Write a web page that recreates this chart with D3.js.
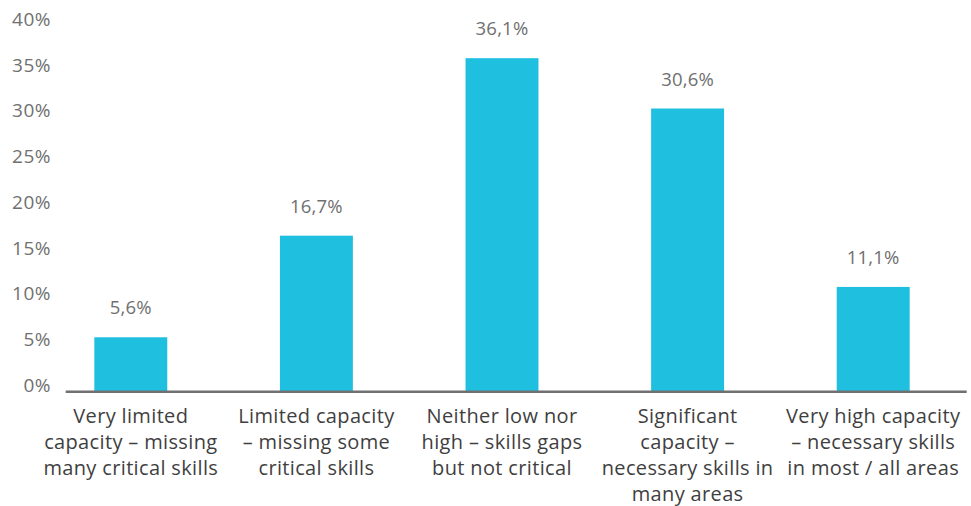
<!DOCTYPE html>
<html>
<head>
<meta charset="utf-8">
<script src="https://cdn.jsdelivr.net/npm/d3@7"></script>
<style>
  html, body { margin: 0; padding: 0; background: #fff; }
  svg { display: block; font-family: "Open Sans", "Noto Sans", sans-serif; }
</style>
</head>
<body>
<svg id="chart" width="971" height="506"></svg>
<script>
// Self-assessed capacity levels and share of respondents (%)
const categories = [
  ["Very limited", "capacity – missing", "many critical skills"],
  ["Limited capacity", "– missing some", "critical skills"],
  ["Neither low nor", "high – skills gaps", "but not critical"],
  ["Significant", "capacity –", "necessary skills in", "many areas"],
  ["Very high capacity", "– necessary skills", "in most / all areas"]
];
const values = [5.6, 16.7, 36.1, 30.6, 11.1];
const valueLabels = ["5,6%", "16,7%", "36,1%", "30,6%", "11,1%"];
const yTicks = [0, 5, 10, 15, 20, 25, 30, 35, 40];
const yTickLabels = ["0%", "5%", "10%", "15%", "20%", "25%", "30%", "35%", "40%"];

const svg = d3.select("#chart");
const barColor = "#1fbfe0";

const x = d3.scaleBand()
  .domain(d3.range(values.length))
  .range([38, 966])
  .paddingInner(0.607)
  .paddingOuter(0.3035);

const y = d3.scaleLinear()
  .domain([0, 40])
  .range([388.5, 22.5]);

// Y axis: labels only, no line or ticks
const yAxis = d3.axisLeft(y)
  .tickValues(yTicks)
  .tickFormat((d, i) => yTickLabels[i])
  .tickSize(0)
  .tickPadding(0);

const gy = svg.append("g")
  .attr("transform", "translate(51,-4)")
  .call(yAxis);
gy.select(".domain").remove();
gy.selectAll("text")
  .attr("fill", "#707070")
  .style("font-size", "19px")
  .style("letter-spacing", "0.5px")
  .style("font-family", "'Open Sans', sans-serif")
  .attr("dy", "0.36em");

// Bars (extended down to meet the baseline)
svg.append("g")
  .selectAll("rect")
  .data(values)
  .join("rect")
  .attr("x", (d, i) => x(i))
  .attr("width", x.bandwidth())
  .attr("y", d => y(d))
  .attr("height", d => y(0) - y(d) + 2.5)
  .attr("fill", barColor);

// Value labels above bars
svg.append("g")
  .selectAll("text")
  .data(values)
  .join("text")
  .attr("x", (d, i) => x(i) + x.bandwidth() / 2)
  .attr("y", d => y(d) - 23)
  .attr("text-anchor", "middle")
  .attr("fill", "#707070")
  .style("font-size", "18.5px")
  .style("letter-spacing", "0.2px")
  .text((d, i) => valueLabels[i]);

// Baseline
svg.append("line")
  .attr("x1", 65.7)
  .attr("x2", 966.7)
  .attr("y1", y(0) + 3.3)
  .attr("y2", y(0) + 3.3)
  .attr("stroke", "#707070")
  .attr("stroke-width", 2.4);

// Category labels, one tspan per line
const cat = svg.append("g")
  .selectAll("text")
  .data(categories)
  .join("text")
  .attr("text-anchor", "middle")
  .attr("fill", "#3f3f3f")
  .style("font-size", "20px")
  .style("letter-spacing", "0.35px")
  .attr("x", (d, i) => x(i) + x.bandwidth() / 2)
  .attr("y", 423);
cat.selectAll("tspan")
  .data(d => d)
  .join("tspan")
  .attr("x", function () { return this.parentNode.getAttribute("x"); })
  .attr("dy", (d, i) => i === 0 ? 0 : 26)
  .text(d => d);
</script>
</body>
</html>
